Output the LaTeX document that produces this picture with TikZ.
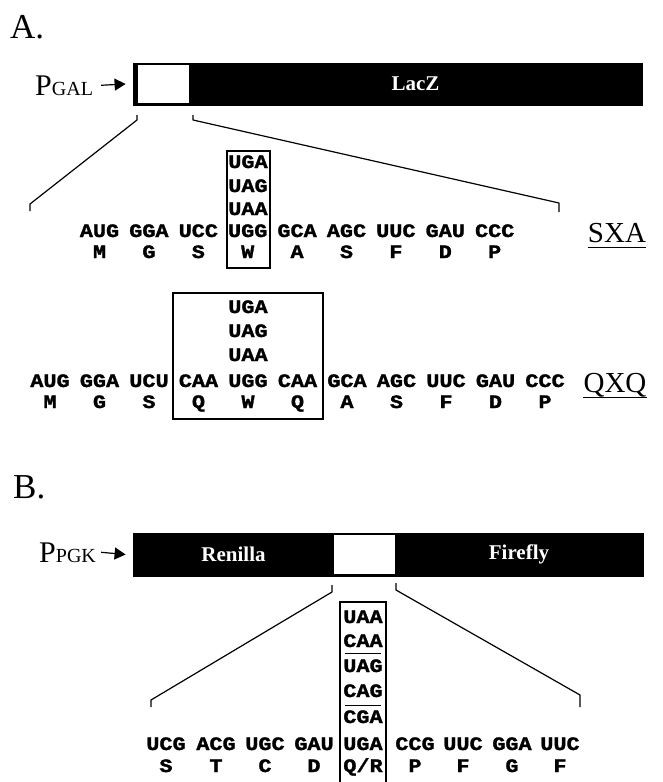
\documentclass[tikz,border=0pt]{standalone}
\usepackage{fontspec}
\usepackage{tikz}
\usetikzlibrary{arrows.meta}
\setmainfont{Liberation Serif}
\newfontfamily\codonfont[FakeStretch=1.15, FakeBold=1.5]{Liberation Mono}

\tikzset{
    codon/.style={font=\codonfont\bfseries\fontsize{19}{19}\selectfont, anchor=base, inner sep=0pt},
    panel/.style={font=\fontsize{35}{35}\selectfont, anchor=base west, inner sep=0pt},
    promoter/.style={font=\fontsize{30}{30}\selectfont, anchor=base west, inner sep=0pt},
    construct/.style={font=\fontsize{29}{29}\selectfont, anchor=base, inner sep=0pt},
    genebar/.style={fill=black, draw=black, line width=0.8pt, inner sep=0pt},
    insert/.style={fill=white, inner sep=0pt},
    genename/.style={text=white, font=\bfseries\fontsize{21}{21}\selectfont, inner sep=0pt},
    promarrow/.style={line width=1.2pt, -{Triangle[length=11pt,width=12pt]}},
    zoomline/.style={line width=1.2pt, line join=round},
    codonbox/.style={line width=1.2pt},
    sepline/.style={line width=0.9pt, shorten <=2pt, shorten >=2pt},
}

\begin{document}
\begin{tikzpicture}[x=1pt, y=-1pt]
    \useasboundingbox (0,0) rectangle (663,782);

    % Panel A: reporter construct
    \node[panel] (lblA) at (10,38) {A.};
    \node[genebar, minimum width=509pt, minimum height=42pt] (barA) at (387.5,84) {};
    \node[insert, minimum width=51pt, minimum height=38pt] (insA) at (163.5,84) {};
    \node[genename] (lacz) at (415.5,84) {LacZ};
    \node[promoter] (pgal) at (35,95) {P\fontsize{20}{20}\selectfont GAL};
    \draw[promarrow] ([xshift=8pt]pgal.east) -- ([xshift=-7pt]barA.west);

    % zoom into the insert
    \coordinate (a-l1) at (137,115);
    \coordinate (a-l2) at (137,120);
    \coordinate (a-l3) at (30,204);
    \coordinate (a-l4) at (30,211);
    \coordinate (a-r1) at (193,115);
    \coordinate (a-r2) at (193,120);
    \coordinate (a-r3) at (559,203);
    \coordinate (a-r4) at (559,212);
    \draw[zoomline] (a-l1) -- (a-l2) -- (a-l3) -- (a-l4);
    \draw[zoomline] (a-r1) -- (a-r2) -- (a-r3) -- (a-r4);

    % SXA sequence
    \foreach \cod/\aa [count=\i from 0] in {AUG/M, GGA/G, UCC/S, UGG/W, GCA/A, AGC/S, UUC/F, GAU/D, CCC/P} {
        \pgfmathsetmacro{\x}{99.5 + 49.4*\i}
        \node[codon] (sxa-c\i) at (\x,237) {\cod};
        \node[codon] (sxa-a\i) at (\x,258) {\aa};
    }
    \foreach \cod/\y in {UGA/168, UAG/192, UAA/215} {
        \node[codon] (sxa-s\cod) at (248,\y) {\cod};
    }
    \draw[codonbox] (227,151) rectangle (270,268);
    \node[construct] (sxa) at (617,242) {SXA};
    \draw[line width=0.8pt] ([yshift=-5pt]sxa.base west) -- ([yshift=-5pt]sxa.base east);

    % QXQ sequence
    \foreach \cod/\aa [count=\i from 0] in {AUG/M, GGA/G, UCU/S, CAA/Q, UGG/W, CAA/Q, GCA/A, AGC/S, UUC/F, GAU/D, CCC/P} {
        \pgfmathsetmacro{\x}{50 + 49.5*\i}
        \node[codon] (qxq-c\i) at (\x,387) {\cod};
        \node[codon] (qxq-a\i) at (\x,408) {\aa};
    }
    \foreach \cod/\y in {UGA/313, UAG/337, UAA/361} {
        \node[codon] (qxq-s\cod) at (248,\y) {\cod};
    }
    \draw[codonbox] (173,293) rectangle (323,419);
    \node[construct] (qxq) at (615,392) {QXQ};
    \draw[line width=0.8pt] ([yshift=-5pt]qxq.base west) -- ([yshift=-5pt]qxq.base east);

    % Panel B: dual luciferase construct
    \node[panel] (lblB) at (13,498) {B.};
    \node[genebar, minimum width=510pt, minimum height=43pt] (barB) at (388,554.5) {};
    \node[insert, minimum width=61pt, minimum height=39pt] (insB) at (364.5,554.5) {};
    \node[genename] (renilla) at (233.5,554.5) {Renilla};
    \node[genename] (firefly) at (519,554.5) {Firefly};
    \node[promoter] (ppgk) at (39,562) {P\fontsize{20}{20}\selectfont PGK};
    \draw[promarrow] ([xshift=5pt]ppgk.east) -- ([xshift=-7pt]barB.west);

    % zoom into the insert
    \coordinate (b-l1) at (332,585);
    \coordinate (b-l2) at (332,592);
    \coordinate (b-l3) at (151,700);
    \coordinate (b-l4) at (151,707);
    \coordinate (b-r1) at (396,583);
    \coordinate (b-r2) at (396,590);
    \coordinate (b-r3) at (580,695);
    \coordinate (b-r4) at (580,707);
    \draw[zoomline] (b-l1) -- (b-l2) -- (b-l3) -- (b-l4);
    \draw[zoomline] (b-r1) -- (b-r2) -- (b-r3) -- (b-r4);

    % readthrough sequence
    \foreach \x/\cod/\aa [count=\i from 0] in {166/UCG/S, 216/ACG/T, 265/UGC/C, 314/GAU/D, 363/UGA/{Q/R}, 415/CCG/P, 463/UUC/F, 512/GGA/G, 560/UUC/F} {
        \node[codon] (pgk-c\i) at (\x,750) {\cod};
        \node[codon] (pgk-a\i) at (\x,772) {\aa};
    }
    \foreach \cod/\y in {UAA/623, CAA/647, UAG/672, CAG/697, CGA/723} {
        \node[codon] (pgk-s\cod) at (363,\y) {\cod};
    }
    \draw[sepline] ([yshift=-6pt]pgk-sCAA.base west) -- ([yshift=-6pt]pgk-sCAA.base east);
    \draw[sepline] ([yshift=-8pt]pgk-sCAG.base west) -- ([yshift=-8pt]pgk-sCAG.base east);
    \draw[codonbox] (340,782) -- (340,602) -- (386,602) -- (386,782);
\end{tikzpicture}
\end{document}
